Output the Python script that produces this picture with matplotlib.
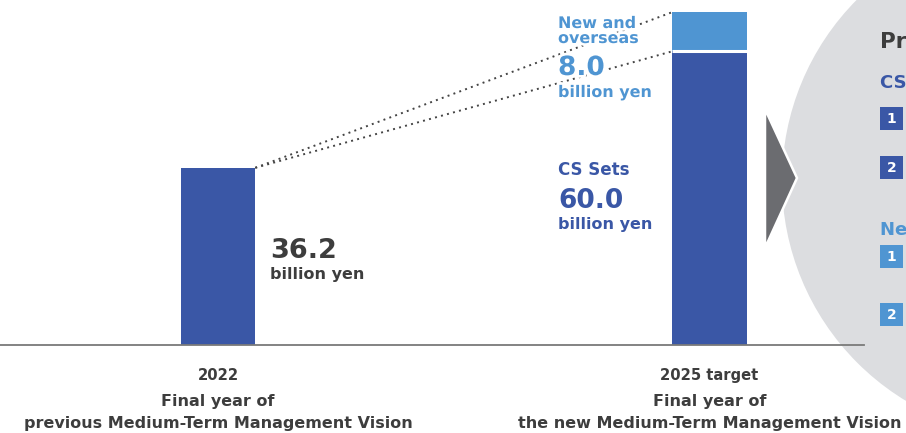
import matplotlib
matplotlib.use("Agg")

import matplotlib.pyplot as plt
import matplotlib.patheffects as pe
from matplotlib.patches import Circle, Polygon, Rectangle

# ── data ─────────────────────────────────────────────────────────
positions = [0, 1]
year_labels = ["2022", "2025 target"]
vision_lines = [("Final year of", "previous Medium-Term Management Vision"),
                ("Final year of", "the new Medium-Term Management Vision")]
cs_sets = [36.2, 60.0]
new_overseas = [0.0, 8.0]

# ── style ────────────────────────────────────────────────────────
DARK_BLUE = "#3a57a6"
LIGHT_BLUE = "#4f95d2"
TEXT_GREY = "#3d3d3d"
CIRCLE_GREY = "#dcdde0"
ARROW_GREY = "#6b6c70"

plt.rcParams["font.family"] = ["DejaVu Sans"]
plt.rcParams["font.weight"] = "bold"

W, H = 906, 433
fig = plt.figure(figsize=(W / 100, H / 100), dpi=100)

# pixel-space layer for the decorative panel on the right
deco = fig.add_axes([0, 0, 1, 1], zorder=0)
deco.set_xlim(0, W)
deco.set_ylim(H, 0)
deco.axis("off")

# bar layer, baseline at y=345 px, 4.895 px per billion yen
bar_ax = fig.add_axes([0, 88 / H, 1, 70 * 4.895 / H], zorder=1)
bar_ax.patch.set_alpha(0)
px_per_unit = 491.5
bar_ax.set_xlim(-218 / px_per_unit, (W - 218) / px_per_unit)
bar_ax.set_ylim(0, 70)
bar_ax.axis("off")

# ── right-hand panel: circle, chevron, numbered items ────────────
deco.add_patch(Circle((1039, 181), 257, facecolor=CIRCLE_GREY,
                      edgecolor="none"))
deco.add_patch(Polygon([(765, 109), (765, 248), (797, 178)], closed=True,
                       facecolor=ARROW_GREY, edgecolor="white", lw=1.8))

deco.text(880, 48, "Priority measures", fontsize=15.5, color=TEXT_GREY)
deco.text(880, 88, "CS Sets", fontsize=13, color=DARK_BLUE)
deco.text(880, 235, "New and overseas", fontsize=13, color=LIGHT_BLUE)

for top, num, col in [(107, "1", DARK_BLUE), (156, "2", DARK_BLUE),
                      (245, "1", LIGHT_BLUE), (303, "2", LIGHT_BLUE)]:
    deco.add_patch(Rectangle((880, top), 23, 23, facecolor=col,
                             edgecolor="none"))
    deco.text(891.5, top + 12, num, fontsize=10, color="white",
              ha="center", va="center")

# ── bars ─────────────────────────────────────────────────────────
width = 74.5 / px_per_unit
bar_ax.bar(positions, cs_sets, width=width, color=DARK_BLUE, zorder=2)
bar_ax.bar(positions[1], new_overseas[1], bottom=cs_sets[1], width=width,
           color=LIGHT_BLUE, zorder=2)
# white seam between the two segments
bar_ax.plot([positions[1] - width / 2, positions[1] + width / 2],
            [cs_sets[1], cs_sets[1]], color="white", lw=2.2, zorder=3,
            solid_capstyle="butt")

# baseline
bar_ax.plot([bar_ax.get_xlim()[0], (864 - 218) / px_per_unit], [0, 0],
            color="#7a7a7a", lw=1.3, zorder=4, clip_on=False)

# dotted connectors from 2022 top to the 2025 segments
x0 = positions[0] + width / 2
x1 = positions[1] - width / 2
for y_end in [cs_sets[1] + new_overseas[1], cs_sets[1]]:
    bar_ax.plot([x0, x1], [cs_sets[0], y_end], color="#444444", lw=1.4,
                linestyle=(0, (1, 2.2)), zorder=1)

# ── value labels ─────────────────────────────────────────────────
deco.text(270, 258, f"{cs_sets[0]:.1f}", fontsize=19.5, color=TEXT_GREY)
deco.text(270, 279, "billion yen", fontsize=11.5, color=TEXT_GREY)

# figure-level texts so the white halo sits above the dotted connectors
halo = [pe.withStroke(linewidth=4, foreground="white")]
for y, txt, size in [(28, "New and", 11.5), (43, "overseas", 11.5),
                     (75, f"{new_overseas[1]:.1f}", 19),
                     (97, "billion yen", 11.5)]:
    fig.text(558, y, txt, fontsize=size, color=LIGHT_BLUE,
             transform=deco.transData, path_effects=halo, zorder=5)

deco.text(558, 175, "CS Sets", fontsize=12, color=DARK_BLUE)
deco.text(558, 208, f"{cs_sets[1]:.1f}", fontsize=19, color=DARK_BLUE)
deco.text(558, 229, "billion yen", fontsize=11.5, color=DARK_BLUE)

# ── category labels ──────────────────────────────────────────────
for cx, year, (line1, line2) in zip([218, 709.5], year_labels, vision_lines):
    deco.text(cx, 380, year, fontsize=10.6, color=TEXT_GREY, ha="center")
    deco.text(cx, 406, line1, fontsize=11.5, color=TEXT_GREY, ha="center")
    deco.text(cx, 428, line2, fontsize=11.5, color=TEXT_GREY, ha="center")

fig.savefig("out.png", dpi=100)
